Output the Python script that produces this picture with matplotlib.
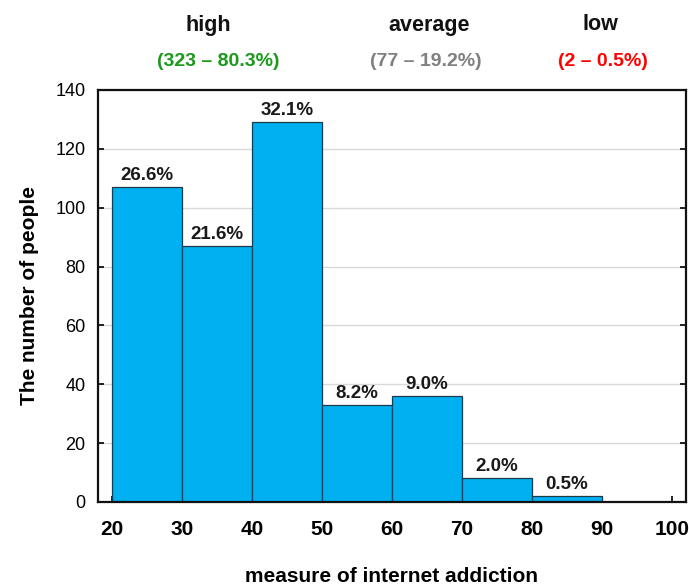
import matplotlib; matplotlib.use("Agg")
import matplotlib.pyplot as plt

# ---- data ----
bin_left = [20, 30, 40, 50, 60, 70, 80]
counts   = [107, 87, 129, 33, 36, 8, 2]
pct_lbl  = ["26.6%", "21.6%", "32.1%", "8.2%", "9.0%", "2.0%", "0.5%"]
xticks   = [20, 30, 40, 50, 60, 70, 80, 90, 100]
yticks   = [0, 20, 40, 60, 80, 100, 120, 140]
groups     = ["high", "average", "low"]
group_sub  = ["(323 \u2013 80.3%)", "(77 \u2013 19.2%)", "(2 \u2013 0.5%)"]
group_col  = ["#1a9a1a", "#7f7f7f", "#ff0000"]

plt.rcParams["font.family"] = ["Liberation Sans", "DejaVu Sans"]

fig = plt.figure(figsize=(6.89, 5.88), dpi=100)
ax = fig.add_axes([0.1422, 0.1463, 0.8534, 0.7007])

ax.bar(bin_left, counts, width=10, align="edge", color="#00b0f0",
       edgecolor="#1c3a4a", linewidth=0.9, zorder=2)
for x, c, s in zip(bin_left, counts, pct_lbl):
    ax.text(x + 5, c + 1.0, s, ha="center", va="bottom", fontsize=13.5,
            fontweight="bold", color="#1a1a1a", zorder=3)

ax.set_xlim(18, 102); ax.set_ylim(0, 140)
ax.set_xticks(xticks); ax.set_yticks(yticks)
ax.yaxis.grid(True, color="#d9d9d9", linewidth=1.0, zorder=0)
ax.set_axisbelow(True)
ax.tick_params(axis="y", direction="in", right=True, length=4, width=1.2,
               labelsize=13, pad=9)
ax.tick_params(axis="x", direction="in", length=4, width=1.2,
               labelsize=15, pad=13)
for lb in ax.get_xticklabels(): lb.set_fontweight("bold")
for sp in ax.spines.values():
    sp.set_linewidth(1.6); sp.set_color("#111111")

ax.set_xlabel("measure of internet addiction", fontsize=15, fontweight="bold",
              labelpad=20)
ax.set_ylabel("The number of people", fontsize=15, fontweight="bold",
              labelpad=12)

# category headers above the plot (pixel centres from the reference)
gx_top = [208, 429, 600]
gx_sub = [218, 426, 603]
for g, s, c, xa, xb in zip(groups, group_sub, group_col, gx_top, gx_sub):
    fig.text(xa/689, 1 - 25/588, g, ha="center", va="center", fontsize=15.5,
             fontweight="bold", color="#111111")
    fig.text(xb/689, 1 - 62/588, s, ha="center", va="center", fontsize=14,
             fontweight="bold", color=c)

fig.savefig("out.png", dpi=100)
